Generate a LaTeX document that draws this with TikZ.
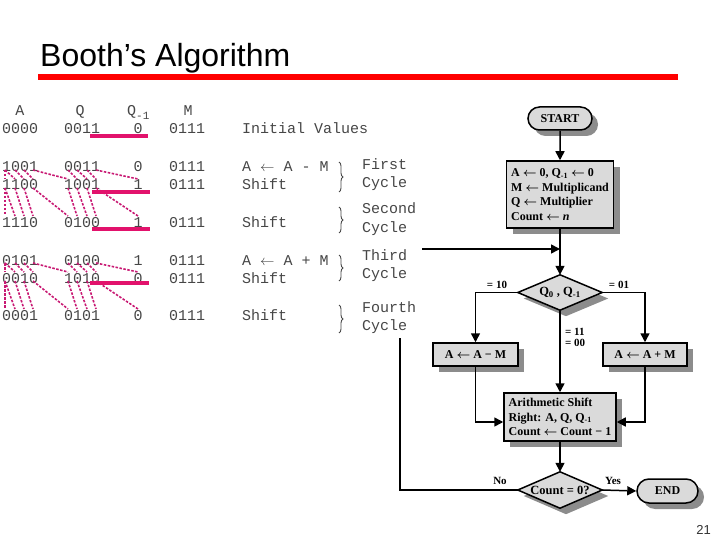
\documentclass[tikz,border=0pt]{standalone}
\usepackage{fontspec}
\setmainfont{Liberation Serif}
\newfontfamily\titlefont{Liberation Sans}
\newfontfamily\tabfont{Liberation Mono}
\usetikzlibrary{arrows.meta,shapes.geometric,shapes.misc,shadows,decorations.pathreplacing}
\definecolor{barpink}{RGB}{226,18,108}
\definecolor{dotpink}{RGB}{200,25,115}
\definecolor{boxgray}{RGB}{218,218,218}
\definecolor{shadowgray}{RGB}{140,140,140}
\definecolor{tabgray}{RGB}{70,70,70}
\newcommand{\la}{\ensuremath{\leftarrow}}
\tikzset{
 tab/.style={font=\tabfont\fontsize{15}{15}\selectfont, text=tabgray, inner sep=0pt, anchor=base west},
 tabc/.style={tab, anchor=base},
 shiftln/.style={draw=dotpink, line width=1.6pt, dash pattern=on 2.5pt off 1.5pt},
 qbar/.style={draw=barpink, line width=4pt},
 cyc/.style={draw=tabgray, line width=0.9pt, decorate, decoration={brace, amplitude=4pt}},
 fc/.style={draw=black, line width=1.5pt, fill=boxgray, font=\bfseries\boldmath\fontsize{12}{14.6}\selectfont,
   drop shadow={shadow xshift=6pt, shadow yshift=-6pt, fill=shadowgray, opacity=1}},
 proc/.style={fc, rectangle, inner sep=0pt},
 term/.style={fc, rounded rectangle, inner sep=0pt},
 dframe/.style={rectangle, draw=none, inner sep=0pt},
 dtext/.style={inner sep=0pt, font=\bfseries\boldmath\fontsize{12.5}{14}\selectfont},
 dshadow/.style={fill=shadowgray},
 dbody/.style={draw=black, line width=1.5pt, fill=boxgray, line join=miter},
 flow/.style={draw=black, line width=1.5pt},
 arr/.style={flow, -{Triangle[length=9pt,width=9pt]}},
 lbl/.style={font=\bfseries\fontsize{11}{11}\selectfont, inner sep=0pt},
}
\begin{document}
\begin{tikzpicture}[x=1pt,y=-1pt]
\useasboundingbox (0,0) rectangle (720,540);
% title
\node[font=\titlefont\fontsize{32}{32}\selectfont, anchor=base west, inner sep=0pt] (title) at (40,67) {Booth’s Algorithm};
\draw[red, line width=6pt] (38,77) -- (678,77);
% table header
\node[tabc] (hA) at (20,116) {A};
\node[tabc] (hQ) at (80,116) {Q};
\node[tab] (hQ1) at (127,116) {Q\raisebox{-3.5pt}{\fontsize{11}{11}\selectfont -1}};
\node[tabc] (hM) at (188,116) {M};
% rows
\foreach \y/\a/\q/\qq/\m [count=\i] in {134/0000/0011/0/0111, 172/1001/0011/0/0111, 190/1100/1001/1/0111, 227/1110/0100/1/0111, 265/0101/0100/1/0111, 283/0010/1010/0/0111, 320/0001/0101/0/0111} {
 \node[tab] (ra\i) at (2,\y) {\a};
 \node[tab] (rq\i) at (64,\y) {\q};
 \node[tabc] (rqq\i) at (138,\y) {\qq};
 \node[tab] (rm\i) at (169,\y) {\m};
}
% actions
\node[tab] (act1) at (242,134) {Initial Values};
\node[tab] (act2) at (242,172) {A \la{} A - M};
\node[tab] (act3) at (242,190) {Shift};
\node[tab] (act4) at (242,227) {Shift};
\node[tab] (act5) at (242,265) {A \la{} A + M};
\node[tab] (act6) at (242,283) {Shift};
\node[tab] (act7) at (242,320) {Shift};
% cycles
\draw[cyc] (339,162) -- (339,192);
\draw[cyc] (339,207) -- (339,233);
\draw[cyc] (339,255) -- (339,281);
\draw[cyc] (339,305) -- (339,333);
\node[tab] (c1a) at (362,170) {First};
\node[tab] (c1b) at (362,188) {Cycle};
\node[tab] (c2a) at (362,214) {Second};
\node[tab] (c2b) at (362,233) {Cycle};
\node[tab] (c3a) at (362,260) {Third};
\node[tab] (c3b) at (362,278) {Cycle};
\node[tab] (c4a) at (362,312) {Fourth};
\node[tab] (c4b) at (362,330) {Cycle};
% shift lines
\foreach \u/\l in {167/185,185/222,260/278,278/315}
 \foreach \a/\b in {5/5,5/15,15/24,24/33,33/68,68/77,77/87,87/96,96/138}
  \draw[shiftln] (\a,\u+3) -- (\b,\l-6);
% bars
\draw[qbar] (90,136.5) -- (148,136.5);
\draw[qbar] (92,192) -- (150,192);
\draw[qbar] (92,229.5) -- (150,229.5);
\draw[qbar] (90,283) -- (149,283);
% flowchart
\node[term, minimum width=64pt, minimum height=23pt] (start) at (560,118.5) {START};
\node[proc, minimum width=107pt, minimum height=67pt, align=left] (init) at (560,194.5)
 {A \la{} 0, Q\textsubscript{-1} \la{} 0\\M \la{} Multiplicand\\Q \la{} Multiplier\\Count \la{} \textit{n}};
% decision Q0,Q-1
\node[dframe, minimum width=84pt, minimum height=35pt] (qd) at (560,292.5) {};
\fill[dshadow] ([xshift=6pt,yshift=-6pt]qd.north) -- ([xshift=6pt,yshift=-6pt]qd.east) -- ([xshift=6pt,yshift=-6pt]qd.south) -- ([xshift=6pt,yshift=-6pt]qd.west) -- cycle;
\draw[dbody] (qd.north) -- (qd.east) -- (qd.south) -- (qd.west) -- cycle;
\node[dtext] (qdt) at (qd) {Q\textsubscript{0} , Q\textsubscript{-1}};
\node[proc, minimum width=85pt, minimum height=23pt] (sub) at (475.5,354.5) {A \la{} A − M};
\node[proc, minimum width=84pt, minimum height=23pt] (add) at (645,354.5) {A \la{} A + M};
\node[proc, minimum width=112pt, minimum height=48pt, align=left] (sh) at (560,417)
 {Arithmetic Shift\\Right: A, Q, Q\textsubscript{-1}\\Count \la{} Count − 1};
% decision Count = 0?
\node[dframe, minimum width=84pt, minimum height=36pt] (cd) at (560,490) {};
\fill[dshadow] ([xshift=6pt,yshift=-6pt]cd.north) -- ([xshift=6pt,yshift=-6pt]cd.east) -- ([xshift=6pt,yshift=-6pt]cd.south) -- ([xshift=6pt,yshift=-6pt]cd.west) -- cycle;
\draw[dbody] (cd.north) -- (cd.east) -- (cd.south) -- (cd.west) -- cycle;
\node[dtext] (cdt) at (cd) {Count = 0?};
\node[term, minimum width=61pt, minimum height=24pt] (end) at (667.5,491) {END};
% connectors
\draw[arr] (start) -- (init);
\draw[arr] (init) -- (qd);
\coordinate (loopin) at (422,249);
\draw[arr] (loopin) -- (loopin -| init.south);
\draw[arr] (qd.west) -| (sub.north);
\draw[arr] (qd.east) -| (add.north);
\draw[arr] (qd.south) -- (sh.north);
\draw[arr] (sub.south) |- ([yshift=-5pt]sh.west);
\draw[arr] (add.south) |- ([yshift=-5pt]sh.east);
\draw[arr] (sh.south) -- (cd.north);
\draw[arr] (cd.east) -- (end.west);
\coordinate (looptop) at (400,338);
\draw[flow] (cd.west) -| (looptop);
% labels
\node[lbl] (l10) at (497,285) {= 10};
\node[lbl] (l01) at (619,285) {= 01};
\node[lbl, anchor=west] (l11) at (565,332) {= 11};
\node[lbl, anchor=west] (l00) at (565,343) {= 00};
\node[lbl] (lno) at (500,481) {No};
\node[lbl] (lyes) at (613,481) {Yes};
% page number
\node[font=\titlefont\fontsize{13}{13}\selectfont, text=black!80, anchor=base east, inner sep=0pt] (pg) at (711,534) {21};
\end{tikzpicture}
\end{document}
